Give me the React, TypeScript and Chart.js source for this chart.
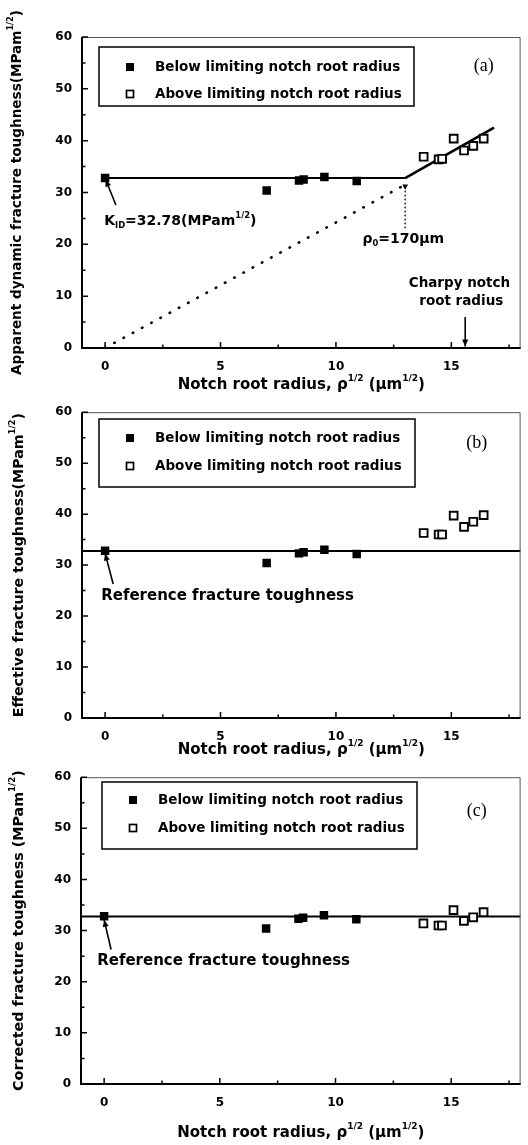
import React, { useEffect, useRef } from "react";
import { Chart, registerables } from "chart.js";
Chart.register(...registerables);

// ---------- data ----------
const belowX = [0, 7.0, 8.4, 8.6, 9.5, 10.9];
const belowY = [32.8, 30.4, 32.3, 32.5, 33.0, 32.2];
const aboveX = [13.8, 14.45, 14.6, 15.1, 15.55, 15.95, 16.4];
const aboveYa = [36.9, 36.4, 36.5, 40.4, 38.1, 39.0, 40.4];
const aboveYb = [36.3, 36.0, 36.0, 39.7, 37.5, 38.5, 39.8];
const aboveYc = [31.4, 31.0, 31.0, 34.0, 31.9, 32.6, 33.6];
const kID = 32.78;
const rhoLimit = 13.0;
const riseEndX = 16.85;
const riseEndY = 42.5;
const dottedEndY = 31.5;
const charpyX = 15.6;
const xTicks = [0, 5, 10, 15];
const xMinor = [2.5, 7.5, 12.5, 17.5];
const yTicks = [0, 10, 20, 30, 40, 50, 60];
const yMinor = [5, 15, 25, 35, 45, 55];
const legendLabels = ["Below limiting notch root radius", "Above limiting notch root radius"];

type Seg = { t: string; s?: "sup" | "sub" };
const FAM = '"DejaVu Sans"';

function drawRich(ctx: CanvasRenderingContext2D, segs: Seg[], x: number, y: number, size: number, align: "left" | "center") {
  const parts = segs.map((sg) => {
    const fs = sg.s ? size * 0.6 : size;
    ctx.font = `bold ${fs}px ${FAM}`;
    return { ...sg, fs, w: ctx.measureText(sg.t).width };
  });
  const total = parts.reduce((a, p) => a + p.w, 0);
  let cx = align === "center" ? x - total / 2 : x;
  ctx.textBaseline = "middle";
  ctx.textAlign = "left";
  for (const p of parts) {
    ctx.font = `bold ${p.fs}px ${FAM}`;
    const dy = p.s === "sup" ? -size * 0.42 : p.s === "sub" ? size * 0.32 : 0;
    ctx.fillText(p.t, cx, y + dy);
    cx += p.w;
  }
}

const xTitle: Seg[] = [
  { t: "Notch root radius, \u03C1" }, { t: "1/2", s: "sup" }, { t: " (\u03BCm" }, { t: "1/2", s: "sup" }, { t: ")" },
];

interface TextAnn { segs: Seg[]; x: number; y: number; size: number; align: "left" | "center" }
interface ArrowAnn { x1: number; y1: number; x2: number; y2: number; head: boolean }
interface Panel {
  top: number; height: number; plotTop: number; plotBottom: number; plotLeft: number;
  yTitle: Seg[]; yTitleSize: number; yTitleX: number; xTitleY: number;
  aboveY: number[]; tag: string; tagX: number; tagY: number;
  legend: { x: number; y: number; w: number; h: number; r1: number; r2: number; mx: number; tx: number };
  texts: TextAnn[]; arrows: ArrowAnn[]; kind: "a" | "bc";
}

const refSegs: Seg[] = [{ t: "Reference fracture toughness" }];

const panels: Panel[] = [
  {
    top: 0, height: 395, plotTop: 37, plotBottom: 348, plotLeft: 82,
    yTitle: [{ t: "Apparent dynamic fracture toughness(MPam" }, { t: "1/2", s: "sup" }, { t: ")" }],
    yTitleSize: 13.6, yTitleX: 17, xTitleY: 385, aboveY: aboveYa, tag: "(a)", tagX: 16.4, tagY: 54.4,
    legend: { x: 99, y: 47, w: 315, h: 59, r1: 67, r2: 94, mx: 130, tx: 155 },
    texts: [
      { segs: [{ t: "K" }, { t: "ID", s: "sub" }, { t: "=32.78(MPam" }, { t: "1/2", s: "sup" }, { t: ")" }], x: -0.04, y: 24.4, size: 14, align: "left" },
      { segs: [{ t: "\u03C1" }, { t: "0", s: "sub" }, { t: "=170\u03BCm" }], x: 11.15, y: 21.0, size: 14, align: "left" },
      { segs: [{ t: "Charpy notch" }], x: 15.35, y: 12.5, size: 13.5, align: "center" },
      { segs: [{ t: "root radius" }], x: 15.43, y: 8.9, size: 13.5, align: "center" },
    ],
    arrows: [
      { x1: 0.47, y1: 27.6, x2: 0.02, y2: 32.5, head: true },
      { x1: charpyX, y1: 6.0, x2: charpyX, y2: 0.3, head: true },
    ],
    kind: "a",
  },
  {
    top: 395, height: 365, plotTop: 11, plotBottom: 323, plotLeft: 82,
    yTitle: [{ t: "Effective fracture toughness(MPam" }, { t: "1/2", s: "sup" }, { t: ")" }],
    yTitleSize: 14.2, yTitleX: 19, xTitleY: 355, aboveY: aboveYb, tag: "(b)", tagX: 16.1, tagY: 54.0,
    legend: { x: 99, y: 24, w: 316, h: 68, r1: 43, r2: 71, mx: 130, tx: 155 },
    texts: [{ segs: refSegs, x: -0.17, y: 24.0, size: 15, align: "left" }],
    arrows: [{ x1: 0.35, y1: 26.3, x2: 0.0, y2: 32.3, head: true }],
    kind: "bc",
  },
  {
    top: 760, height: 385, plotTop: 12, plotBottom: 324, plotLeft: 81,
    yTitle: [{ t: "Corrected fracture toughness (MPam" }, { t: "1/2", s: "sup" }, { t: ")" }],
    yTitleSize: 14.3, yTitleX: 19, xTitleY: 373, aboveY: aboveYc, tag: "(c)", tagX: 16.1, tagY: 53.3,
    legend: { x: 102, y: 22, w: 315, h: 67, r1: 40, r2: 68, mx: 133, tx: 158 },
    texts: [{ segs: refSegs, x: -0.3, y: 24.0, size: 15, align: "left" }],
    arrows: [{ x1: 0.3, y1: 26.3, x2: 0.0, y2: 32.1, head: true }],
    kind: "bc",
  },
];

function drawArrow(ctx: CanvasRenderingContext2D, x1: number, y1: number, x2: number, y2: number, head: boolean) {
  ctx.strokeStyle = "#000";
  ctx.lineWidth = 1.6;
  ctx.beginPath();
  ctx.moveTo(x1, y1);
  ctx.lineTo(x2, y2);
  ctx.stroke();
  if (head) {
    const a = Math.atan2(y2 - y1, x2 - x1);
    const L = 7, W = 3;
    ctx.fillStyle = "#000";
    ctx.beginPath();
    ctx.moveTo(x2, y2);
    ctx.lineTo(x2 - L * Math.cos(a) + W * Math.sin(a), y2 - L * Math.sin(a) - W * Math.cos(a));
    ctx.lineTo(x2 - L * Math.cos(a) - W * Math.sin(a), y2 - L * Math.sin(a) + W * Math.cos(a));
    ctx.closePath();
    ctx.fill();
  }
}

function makeOverlay(p: Panel) {
  return {
    id: "overlay",
    afterDraw(chart: any) {
      const ctx: CanvasRenderingContext2D = chart.ctx;
      const ca = chart.chartArea;
      const xs = chart.scales.x, ys = chart.scales.y;
      ctx.save();
      // frame
      ctx.strokeStyle = "#555";
      ctx.lineWidth = 1;
      ctx.beginPath();
      ctx.moveTo(ca.left, ca.top + 0.5);
      ctx.lineTo(ca.right - 0.5, ca.top + 0.5);
      ctx.lineTo(ca.right - 0.5, ca.bottom);
      ctx.stroke();
      ctx.strokeStyle = "#000";
      ctx.lineWidth = 2;
      ctx.beginPath();
      ctx.moveTo(ca.left, ca.top);
      ctx.lineTo(ca.left, ca.bottom);
      ctx.lineTo(ca.right, ca.bottom);
      ctx.stroke();
      // ticks (inward)
      ctx.lineWidth = 1.5;
      ctx.beginPath();
      xTicks.forEach((v) => { const px = xs.getPixelForValue(v); ctx.moveTo(px, ca.bottom); ctx.lineTo(px, ca.bottom - 6); });
      xMinor.forEach((v) => { const px = xs.getPixelForValue(v); ctx.moveTo(px, ca.bottom); ctx.lineTo(px, ca.bottom - 3.5); });
      yTicks.forEach((v) => { const py = ys.getPixelForValue(v); ctx.moveTo(ca.left, py); ctx.lineTo(ca.left + 6, py); });
      yMinor.forEach((v) => { const py = ys.getPixelForValue(v); ctx.moveTo(ca.left, py); ctx.lineTo(ca.left + 3.5, py); });
      ctx.stroke();
      // legend
      const lg = p.legend;
      ctx.lineWidth = 1.5;
      ctx.strokeStyle = "#000";
      ctx.fillStyle = "#fff";
      ctx.fillRect(lg.x, lg.y, lg.w, lg.h);
      ctx.strokeRect(lg.x, lg.y, lg.w, lg.h);
      ctx.fillStyle = "#000";
      ctx.fillRect(lg.mx - 4, lg.r1 - 4, 8, 8);
      ctx.lineWidth = 1.7;
      ctx.strokeRect(lg.mx - 3.5, lg.r2 - 3.5, 7, 7);
      ctx.fillStyle = "#000";
      drawRich(ctx, [{ t: legendLabels[0] }], lg.tx, lg.r1, 13.5, "left");
      drawRich(ctx, [{ t: legendLabels[1] }], lg.tx, lg.r2, 13.5, "left");
      // tag
      ctx.font = `18px "Liberation Serif"`;
      ctx.textAlign = "center";
      ctx.textBaseline = "middle";
      ctx.fillText(p.tag, xs.getPixelForValue(p.tagX), ys.getPixelForValue(p.tagY));
      // annotations
      p.arrows.forEach((a) => drawArrow(ctx, xs.getPixelForValue(a.x1), ys.getPixelForValue(a.y1), xs.getPixelForValue(a.x2), ys.getPixelForValue(a.y2), a.head));
      ctx.fillStyle = "#000";
      p.texts.forEach((t) => drawRich(ctx, t.segs, xs.getPixelForValue(t.x), ys.getPixelForValue(t.y), t.size, t.align));
      // axis titles
      drawRich(ctx, xTitle, (ca.left + ca.right) / 2, p.xTitleY, 15, "center");
      ctx.translate(p.yTitleX, (ca.top + ca.bottom) / 2);
      ctx.rotate(-Math.PI / 2);
      drawRich(ctx, p.yTitle, 0, 0, p.yTitleSize, "center");
      ctx.restore();
    },
  };
}

function buildDatasets(p: Panel) {
  const pts: any[] = [
    {
      label: legendLabels[0],
      data: belowX.map((x, i) => ({ x, y: belowY[i] })),
      showLine: false, pointStyle: "rect", pointRadius: 6, backgroundColor: "#000", borderColor: "#000", borderWidth: 0,
    },
    {
      label: legendLabels[1],
      data: aboveX.map((x, i) => ({ x, y: p.aboveY[i] })),
      showLine: false, pointStyle: "rect", pointRadius: 5.5, backgroundColor: "#fff", borderColor: "#000", borderWidth: 1.9,
    },
  ];
  const line = (data: any[], w: number, dash: number[] = []) => ({
    label: "", data, showLine: true, pointRadius: 0, borderColor: "#000", borderWidth: w, borderDash: dash,
    borderCapStyle: dash.length ? "round" : "butt", fill: false, tension: 0,
  });
  if (p.kind === "a") {
    pts.push(line([{ x: 0, y: kID }, { x: rhoLimit, y: kID }], 2));
    pts.push(line([{ x: rhoLimit, y: kID }, { x: riseEndX, y: riseEndY }], 2.6));
    pts.push(line([{ x: 0, y: 0 }, { x: rhoLimit, y: dottedEndY }], 2.6, [0.5, 10]));
    pts.push(line([{ x: rhoLimit, y: 31 }, { x: rhoLimit, y: 23 }], 1.4, [0.5, 3.5]));
    pts.push({
      label: "", data: [{ x: rhoLimit, y: 31.2 }], showLine: false, pointStyle: "triangle", rotation: 180,
      pointRadius: 3.4, backgroundColor: "#000", borderColor: "#000", borderWidth: 0,
    });
  } else {
    pts.push(line([{ x: -1, y: kID }, { x: 18, y: kID }], 2));
  }
  return pts;
}

function PanelChart({ p }: { p: Panel }) {
  const ref = useRef<HTMLCanvasElement>(null);
  useEffect(() => {
    if (!ref.current) return;
    const tickFont = { family: FAM, size: 12, weight: "bold" as const };
    const chart = new Chart(ref.current, {
      type: "scatter",
      data: { datasets: buildDatasets(p) },
      options: {
        animation: false,
        responsive: false,
        maintainAspectRatio: false,
        layout: { padding: { top: p.plotTop, right: 2, left: 0, bottom: 0 } },
        plugins: { legend: { display: false }, tooltip: { enabled: false } },
        scales: {
          x: {
            type: "linear", min: -1, max: 18,
            afterBuildTicks: (s: any) => { s.ticks = xTicks.map((v) => ({ value: v })); },
            afterFit: (s: any) => { s.height = p.height - p.plotBottom; },
            grid: { display: false, drawTicks: false },
            border: { display: false },
            ticks: { font: tickFont, color: "#000", padding: 12, maxRotation: 0, autoSkip: false },
          },
          y: {
            type: "linear", min: 0, max: 60,
            afterBuildTicks: (s: any) => { s.ticks = yTicks.map((v) => ({ value: v })); },
            afterFit: (s: any) => { s.width = p.plotLeft; },
            grid: { display: false, drawTicks: false },
            border: { display: false },
            ticks: { font: tickFont, color: "#000", padding: 10, autoSkip: false },
          },
        },
      } as any,
      plugins: [makeOverlay(p)],
    });
    return () => chart.destroy();
  }, [p]);
  return (
    <canvas
      ref={ref}
      width={528}
      height={p.height}
      style={{ position: "absolute", left: 0, top: p.top, width: 528, height: p.height, display: "block" }}
    />
  );
}

export default function App() {
  return (
    <div style={{ position: "absolute", left: 0, top: 0, width: 528, height: 1145, background: "#fff" }}>
      {panels.map((p, i) => (
        <PanelChart key={i} p={p} />
      ))}
    </div>
  );
}
